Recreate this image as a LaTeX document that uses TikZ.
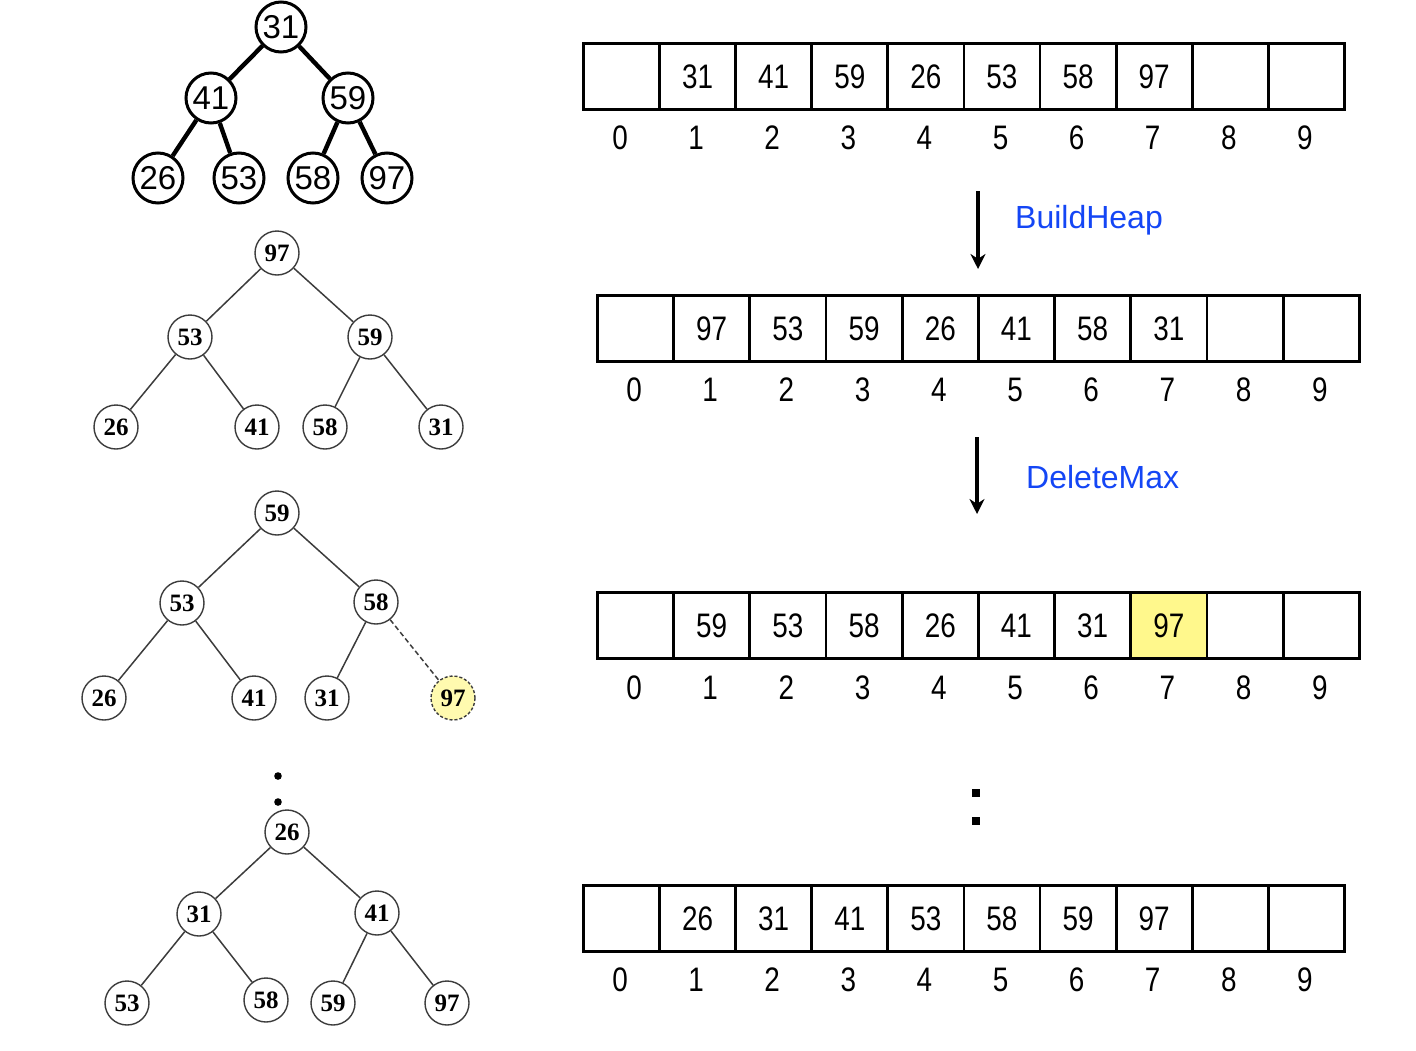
\documentclass[tikz,border=0pt]{standalone}
\usepackage{fontspec}
\setmainfont{Liberation Serif}
\setsansfont{Liberation Sans}
\newfontfamily\cellfont[FakeStretch=0.82]{Liberation Sans}
\usetikzlibrary{arrows.meta}
\definecolor{opblue}{RGB}{20,70,245}
\definecolor{hlyellow}{RGB}{255,248,140}
\definecolor{hlnode}{RGB}{255,250,175}
\definecolor{edgegray}{RGB}{60,60,60}

\begin{document}
\begin{tikzpicture}[x=1pt,y=-1pt,
  cell/.style={draw, line width=2.8pt, minimum width=76.1pt, minimum height=66pt,
    inner sep=0pt, anchor=north west, text depth=-3pt,
    font=\cellfont\fontsize{34}{34}\selectfont},
  idx/.style={inner sep=0pt, font=\cellfont\fontsize{34}{34}\selectfont},
  bignode/.style={circle, draw, line width=3pt, minimum size=50pt, inner sep=0pt,
    font=\sffamily\fontsize{33}{33}\selectfont},
  bigedge/.style={line width=4.4pt},
  heapnode/.style={circle, draw=edgegray, line width=1.4pt, fill=white, minimum size=44pt,
    inner sep=0pt, font=\bfseries\fontsize{25}{25}\selectfont},
  heapedge/.style={draw=edgegray, line width=1.5pt},
  oparrow/.style={line width=3.2pt, -{Stealth[length=15pt,width=15pt]}},
  oplabel/.style={text=opblue, inner sep=0pt, font=\sffamily\fontsize{32}{32}\selectfont},
]
\useasboundingbox (0,0) rectangle (1416,1050);

% ---------- arrays ----------
% array A: input order
\foreach \v [count=\i from 0] in {{},31,41,59,26,53,58,97,{},{}} {
  \node[cell] (A\i) at (582+\i*76.1, 42) {\v};
  \node[idx] (Ai\i) at (582+\i*76.1+38, 138) {\i};
}
% array B: after BuildHeap
\foreach \v [count=\i from 0] in {{},97,53,59,26,41,58,31,{},{}} {
  \node[cell] (B\i) at (596+\i*76.2, 294) {\v};
  \node[idx] (Bi\i) at (596+\i*76.2+38, 390) {\i};
}
% array C: after one DeleteMax, slot 7 holds the removed maximum
\begin{scope}[c7/.style={fill=hlyellow}]
\foreach \v [count=\i from 0] in {{},59,53,58,26,41,31,97,{},{}} {
  \node[cell, c\i/.try] (C\i) at (596+\i*76.2, 591) {\v};
  \node[idx] (Ci\i) at (596+\i*76.2+38, 688) {\i};
}
\end{scope}
% array D: sorted result
\foreach \v [count=\i from 0] in {{},26,31,41,53,58,59,97,{},{}} {
  \node[cell] (D\i) at (582+\i*76.1, 884) {\v};
  \node[idx] (Di\i) at (582+\i*76.1+38, 980) {\i};
}

% ---------- operations ----------
\coordinate (op1s) at (978,191);
\coordinate (op1e) at (978,269);
\draw[oparrow] (op1s) -- (op1e);
\node[oplabel, anchor=west] (op1) at (1015,220) {BuildHeap};

\coordinate (op2s) at (977,437);
\coordinate (op2e) at (977,514);
\draw[oparrow] (op2s) -- (op2e);
\node[oplabel, anchor=west] (op2) at (1026,477) {DeleteMax};

\fill (972,789) rectangle (980,797);
\fill (972,817) rectangle (980,825);

% ---------- tree 1: input ----------
\node[bignode] (t31) at (281,27) {31};
\node[bignode] (t41) at (211,98) {41};
\node[bignode] (t59) at (348,98) {59};
\node[bignode] (t26) at (158,178) {26};
\node[bignode] (t53) at (239,178) {53};
\node[bignode] (t58) at (313,178) {58};
\node[bignode] (t97) at (387,178) {97};
\draw[bigedge] (t31) -- (t41);
\draw[bigedge] (t31) -- (t59);
\draw[bigedge] (t41) -- (t26);
\draw[bigedge] (t41) -- (t53);
\draw[bigedge] (t59) -- (t58);
\draw[bigedge] (t59) -- (t97);

% ---------- tree 2: heap ----------
\node[heapnode] (h97) at (277,253) {97};
\node[heapnode] (h53) at (190,337) {53};
\node[heapnode] (h59) at (370,337) {59};
\node[heapnode] (h26) at (116,427) {26};
\node[heapnode] (h41) at (257,427) {41};
\node[heapnode] (h58) at (325,427) {58};
\node[heapnode] (h31) at (441,427) {31};
\draw[heapedge] (h97) -- (h53);
\draw[heapedge] (h97) -- (h59);
\draw[heapedge] (h53) -- (h26);
\draw[heapedge] (h53) -- (h41);
\draw[heapedge] (h59) -- (h58);
\draw[heapedge] (h59) -- (h31);

% ---------- tree 3: after DeleteMax ----------
\node[heapnode] (d59) at (277,513) {59};
\node[heapnode] (d53) at (182,603) {53};
\node[heapnode] (d58) at (376,602) {58};
\node[heapnode] (d26) at (104,698) {26};
\node[heapnode] (d41) at (254,698) {41};
\node[heapnode] (d31) at (327,698) {31};
\node[heapnode, fill=hlnode, dashed, dash pattern=on 3pt off 2pt] (d97) at (453,698) {97};
\draw[heapedge] (d59) -- (d53);
\draw[heapedge] (d59) -- (d58);
\draw[heapedge] (d53) -- (d26);
\draw[heapedge] (d53) -- (d41);
\draw[heapedge] (d58) -- (d31);
\draw[heapedge, dashed, dash pattern=on 5pt off 3pt] (d58) -- (d97);

% ---------- tree 4: final ----------
\fill (278,776) circle (3.8pt);
\fill (278,802) circle (3.8pt);
\node[heapnode] (f26) at (287,832) {26};
\node[heapnode] (f31) at (199,914) {31};
\node[heapnode] (f41) at (377,913) {41};
\node[heapnode] (f53) at (127,1003) {53};
\node[heapnode] (f58) at (266,1000) {58};
\node[heapnode] (f59) at (333,1003) {59};
\node[heapnode] (f97) at (447,1003) {97};
\draw[heapedge] (f26) -- (f31);
\draw[heapedge] (f26) -- (f41);
\draw[heapedge] (f31) -- (f53);
\draw[heapedge] (f31) -- (f58);
\draw[heapedge] (f41) -- (f59);
\draw[heapedge] (f41) -- (f97);
\end{tikzpicture}
\end{document}
